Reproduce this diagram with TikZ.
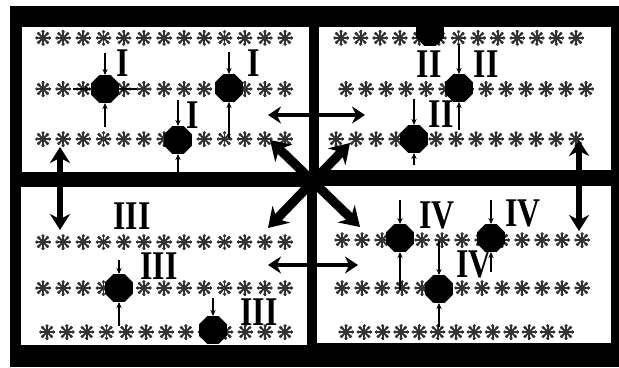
\documentclass[tikz,border=0pt]{standalone}
\usepackage{fontspec}
\setmainfont{Liberation Serif}
\usepackage{graphicx}
\usetikzlibrary{arrows.meta,positioning,shapes.geometric}
\newcommand{\rn}[1]{\scalebox{0.78}[1]{#1}}
\tikzset{
  atom/.pic={\foreach \a in {0,45,90,135} \draw[line width=0.95mm,black!80] (\a:7.5) -- (\a+180:7.5);
    \foreach \a in {0,45,...,315} \fill[black!80] (\a:6.2) circle (1.8);},
  defect/.style={regular polygon,regular polygon sides=8,fill=black,inner sep=0,minimum size=15mm},
  probe/.style={line width=0.7mm,-{Stealth[length=3mm,width=2.6mm]}},
  bigarrow/.style={line width=3mm,{Stealth[length=8mm,width=10mm]}-{Stealth[length=8mm,width=10mm]}},
  flatarrow/.style={line width=2.1mm,{Stealth[length=6.5mm,width=8.5mm]}-{Stealth[length=6.5mm,width=8.5mm]}},
  crossarrow/.style={line width=4.6mm,{Stealth[length=9.5mm,width=12mm]}-{Stealth[length=9.5mm,width=12mm]}},
  numeral/.style={font=\fontsize{58}{58}\selectfont\bfseries,inner sep=0}
}
\begin{document}
\begin{tikzpicture}[x=0.5mm,y=-0.5mm]
  \fill[white] (0,0) rectangle (619,367);
  \useasboundingbox (0,0) rectangle (619,367);
  % frame and the four panels
  \fill[black] (10,6) rectangle (619,367);
  \fill[white] (22,27) rectangle (309,172);
  \fill[white] (319,27) rectangle (611,170);
  \fill[white] (21,187) rectangle (307,345);
  \fill[white] (317,186) rectangle (611,343);
  % rows of atoms
  \foreach \xa/\xb/\yy in {43/285/38,43/285/89,43/285/139,341/576/38,346/586/89,336/576/139,
      43/285/242,43/285/288,47/285/332,342/582/240,342/582/288,346/566/332}
    \foreach \k in {0,...,12}
      \pic at ({\xa+\k*(\xb-\xa)/12},\yy) {atom};
  % defects
  \node[defect] (d1) at (105,89) {};
  \node[defect] (d2) at (229,88) {};
  \node[defect] (d3) at (178,140) {};
  \node[defect] (d4) at (430,32) {};
  \node[defect] (d5) at (459,88) {};
  \node[defect] (d6) at (414,139) {};
  \node[defect] (d7) at (119,288) {};
  \node[defect] (d8) at (213,330) {};
  \node[defect] (d9) at (400,238) {};
  \node[defect] (d10) at (491,238) {};
  \node[defect] (d11) at (439,289) {};
  % probe arrows
  \coordinate[above=11mm of d1.north] (d1a);
  \coordinate[below=12mm of d1.south] (d1b);
  \coordinate[left=9mm of d1.west] (d1c);
  \coordinate[right=9mm of d1.east] (d1e);
  \coordinate[above=11mm of d2.north] (d2a);
  \coordinate[below=18mm of d2.south] (d2b);
  \coordinate[above=13mm of d3.north] (d3a);
  \coordinate[below=11mm of d3.south] (d3b);
  \coordinate[above=15mm of d5.north] (d5a);
  \coordinate[below=14mm of d5.south] (d5b);
  \coordinate[above=13mm of d6.north] (d6a);
  \coordinate[below=6mm of d6.south] (d6b);
  \coordinate[above=7mm of d7.north] (d7a);
  \coordinate[below=12mm of d7.south] (d7b);
  \coordinate[above=9mm of d8.north] (d8a);
  \coordinate[above=12mm of d9.north] (d9a);
  \coordinate[below=19mm of d9.south] (d9b);
  \coordinate[above=12mm of d10.north] (d10a);
  \coordinate[below=10mm of d10.south] (d10b);
  \coordinate[above=17mm of d11.north] (d11a);
  \coordinate[below=12mm of d11.south] (d11b);
  \foreach \p/\d in {d1a/d1,d1b/d1,d1c/d1,d1e/d1,d2a/d2,d2b/d2,d3a/d3,d3b/d3,d5a/d5,d5b/d5,
      d6a/d6,d6b/d6,d7a/d7,d7b/d7,d8a/d8,d9a/d9,d9b/d9,d10a/d10,d10b/d10,d11a/d11,d11b/d11}
    \draw[probe] (\p) -- (\d);
  % labels
  \node[numeral] (n1) at (123,63) {\rn{I}};
  \node[numeral] (n2) at (254,63) {\rn{I}};
  \node[numeral] (n3) at (193,115) {\rn{I}};
  \node[numeral] (n4) at (429,64) {\rn{II}};
  \node[numeral] (n5) at (486,64) {\rn{II}};
  \node[numeral] (n6) at (441,114) {\rn{II}};
  \node[numeral] (n7) at (132,216) {\rn{III}};
  \node[numeral] (n8) at (159,266) {\rn{III}};
  \node[numeral] (n9) at (259,312) {\rn{III}};
  \node[numeral] (n10) at (437,215) {\rn{IV}};
  \node[numeral] (n11) at (523,213) {\rn{IV}};
  \node[numeral] (n12) at (474,264) {\rn{IV}};
  % exchange arrows
  \coordinate (lv1) at (60,147);
  \coordinate (lv2) at (60,230);
  \coordinate (rv1) at (579,140);
  \coordinate (rv2) at (579,231);
  \coordinate (th1) at (268,115);
  \coordinate (th2) at (365,115);
  \coordinate (bh1) at (268,265);
  \coordinate (bh2) at (358,265);
  \coordinate (dg1) at (270,140);
  \coordinate (dg2) at (360,227);
  \coordinate (dg3) at (350,143);
  \coordinate (dg4) at (268,228);
  \draw[bigarrow] (lv1) -- (lv2);
  \draw[bigarrow] (rv1) -- (rv2);
  \draw[flatarrow] (th1) -- (th2);
  \draw[flatarrow] (bh1) -- (bh2);
  \draw[crossarrow] (dg1) -- (dg2);
  \draw[crossarrow] (dg3) -- (dg4);
\end{tikzpicture}
\end{document}
